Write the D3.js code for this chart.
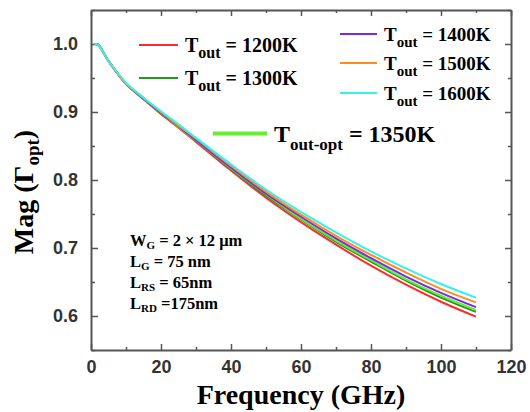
<!DOCTYPE html>
<html>
<head>
<meta charset="utf-8">
<script src="https://cdn.jsdelivr.net/npm/d3@7"></script>
<style>
html,body{margin:0;padding:0;background:#fff;}
svg{display:block;}
</style>
</head>
<body>
<svg id="chart" width="530" height="412"></svg>
<script>
// ---- data ----
const freq = [1, 2, 5, 10, 15, 20, 25, 30, 40, 50, 60, 70, 80, 90, 100, 110];
const t1200 = [1.000, 0.999, 0.975, 0.941, 0.919, 0.897, 0.877, 0.856, 0.814, 0.774, 0.738, 0.705, 0.674, 0.646, 0.621, 0.599];
const t1300 = [1.000, 0.999, 0.975, 0.942, 0.919, 0.898, 0.878, 0.858, 0.816, 0.777, 0.742, 0.709, 0.680, 0.652, 0.627, 0.606];
const t1350 = [1.000, 0.999, 0.975, 0.942, 0.920, 0.899, 0.878, 0.858, 0.817, 0.779, 0.743, 0.711, 0.682, 0.654, 0.630, 0.609];
const t1400 = [1.000, 0.999, 0.975, 0.942, 0.920, 0.899, 0.879, 0.859, 0.818, 0.780, 0.746, 0.714, 0.685, 0.658, 0.634, 0.613];
const t1500 = [1.000, 0.999, 0.975, 0.942, 0.921, 0.900, 0.880, 0.861, 0.821, 0.783, 0.749, 0.718, 0.690, 0.664, 0.640, 0.620];
const t1600 = [1.000, 0.999, 0.975, 0.943, 0.921, 0.901, 0.882, 0.862, 0.823, 0.786, 0.753, 0.723, 0.695, 0.670, 0.647, 0.627];
const seriesNames = ["1200K", "1300K", "1350K", "1400K", "1500K", "1600K"];
const seriesValues = [t1200, t1300, t1350, t1400, t1500, t1600];
const seriesColors = ["#ff2b2b", "#1e9a1e", "#66ee33", "#7b2be0", "#ff8c1f", "#33f2ee"];
const xTicks = [0, 20, 40, 60, 80, 100, 120];
const yTicks = [0.6, 0.7, 0.8, 0.9, 1.0];
const notes = [["W", "G", " = 2 × 12 μm"], ["L", "G", " = 75 nm"], ["L", "RS", " = 65nm"], ["L", "RD", " =175nm"]];

// ---- layout ----
const svg = d3.select("#chart");
const L = 91, R = 511, T = 10, B = 350;
const x = d3.scaleLinear().domain([0, 120]).range([L, R]);
const y = d3.scaleLinear().domain([0.55, 1.05]).range([B, T]);
const axisColor = "#555";
const serif = "'Liberation Serif','Times New Roman',serif";
const sans = "'Liberation Sans',Arial,sans-serif";

function styleAxis(g) {
  g.selectAll("path").attr("stroke", axisColor).attr("stroke-width", 2);
  g.selectAll("line").attr("stroke", axisColor).attr("stroke-width", 1.5);
}
const xMinor = d3.range(10, 120, 20);
const yMinor = [0.55, 0.65, 0.75, 0.85, 0.95, 1.05];

const gxB = svg.append("g").attr("transform", `translate(0,${B})`)
  .call(d3.axisBottom(x).tickValues(xTicks).tickSizeInner(-6).tickSizeOuter(0).tickPadding(10).tickFormat(d3.format("d")));
styleAxis(gxB);
gxB.selectAll("text").attr("font-family", sans).attr("font-weight", "bold").attr("font-size", 18).attr("fill", "#333");
svg.append("g").attr("transform", `translate(0,${B})`)
  .call(d3.axisBottom(x).tickValues(xMinor).tickSizeInner(-3).tickSizeOuter(0).tickFormat(""))
  .call(g => { g.select("path").remove(); styleAxis(g); });

const gxT = svg.append("g").attr("transform", `translate(0,${T})`)
  .call(d3.axisTop(x).tickValues(xTicks).tickSizeInner(-6).tickSizeOuter(0).tickFormat(""));
styleAxis(gxT);
svg.append("g").attr("transform", `translate(0,${T})`)
  .call(d3.axisTop(x).tickValues(xMinor).tickSizeInner(-3).tickSizeOuter(0).tickFormat(""))
  .call(g => { g.select("path").remove(); styleAxis(g); });

const gyL = svg.append("g").attr("transform", `translate(${L},0)`)
  .call(d3.axisLeft(y).tickValues(yTicks).tickSizeInner(-7).tickSizeOuter(0).tickPadding(13).tickFormat(d3.format(".1f")));
styleAxis(gyL);
gyL.selectAll("text").attr("font-family", sans).attr("font-weight", "bold").attr("font-size", 18).attr("fill", "#333");
svg.append("g").attr("transform", `translate(${L},0)`)
  .call(d3.axisLeft(y).tickValues(yMinor).tickSizeInner(-4).tickSizeOuter(0).tickFormat(""))
  .call(g => { g.select("path").remove(); styleAxis(g); });

const gyR = svg.append("g").attr("transform", `translate(${R},0)`)
  .call(d3.axisRight(y).tickValues(yTicks).tickSizeInner(-6).tickSizeOuter(0).tickFormat(""));
styleAxis(gyR);
svg.append("g").attr("transform", `translate(${R},0)`)
  .call(d3.axisRight(y).tickValues(yMinor).tickSizeInner(-3).tickSizeOuter(0).tickFormat(""))
  .call(g => { g.select("path").remove(); styleAxis(g); });

// curves
const line = d3.line().x(d => x(d[0])).y(d => y(d[1])).curve(d3.curveCatmullRom.alpha(0.5));
seriesValues.forEach((vals, i) => {
  svg.append("path")
    .datum(freq.map((f, j) => [f, vals[j]]))
    .attr("fill", "none")
    .attr("stroke", seriesColors[i])
    .attr("stroke-width", 2)
    .attr("d", line);
});

// legend
function legendItem(x0, x1, yy, color, sub, label, size, subSize, width, subDy) {
  svg.append("line").attr("x1", x0).attr("x2", x1).attr("y1", yy).attr("y2", yy)
    .attr("stroke", color).attr("stroke-width", width);
  const t = svg.append("text").attr("x", x1 + 7).attr("y", yy + size * 0.36)
    .attr("font-family", serif).attr("font-weight", "bold").attr("font-size", size).attr("fill", "#000");
  t.append("tspan").text("T");
  t.append("tspan").attr("font-size", subSize).attr("dy", subDy).text(sub);
  t.append("tspan").attr("dy", -subDy).text(" = " + label);
}
legendItem(139, 178, 45, seriesColors[0], "out", seriesNames[0], 20, 16, 2, 6);
legendItem(139, 178, 78, seriesColors[1], "out", seriesNames[1], 20, 16, 2, 6);
legendItem(340, 377, 34, seriesColors[3], "out", seriesNames[3], 19, 15, 2, 6);
legendItem(340, 377, 63, seriesColors[4], "out", seriesNames[4], 19, 15, 2, 6);
legendItem(340, 377, 93, seriesColors[5], "out", seriesNames[5], 19, 15, 2, 6);
legendItem(213, 267, 133.5, seriesColors[2], "out-opt", seriesNames[2], 24, 17, 4, 8);

// annotation
notes.forEach((n, i) => {
  const t = svg.append("text").attr("x", 130).attr("y", 246 + i * 21)
    .attr("font-family", serif).attr("font-weight", "bold").attr("font-size", 16.5).attr("fill", "#000");
  t.append("tspan").text(n[0]);
  t.append("tspan").attr("font-size", 11).attr("dy", 3).text(n[1]);
  t.append("tspan").attr("dy", -3).text(n[2]);
});

// axis titles
svg.append("text").attr("x", 301).attr("y", 404).attr("text-anchor", "middle")
  .attr("font-family", serif).attr("font-weight", "bold").attr("font-size", 28).attr("fill", "#000")
  .text("Frequency (GHz)");
const yt = svg.append("text").attr("transform", "translate(33,192) rotate(-90)").attr("text-anchor", "middle")
  .attr("font-family", serif).attr("font-weight", "bold").attr("font-size", 28).attr("fill", "#000");
yt.append("tspan").text("Mag (Γ");
yt.append("tspan").attr("font-size", 19).attr("dy", 6).text("opt");
yt.append("tspan").attr("dy", -6).text(")");
</script>
</body>
</html>
